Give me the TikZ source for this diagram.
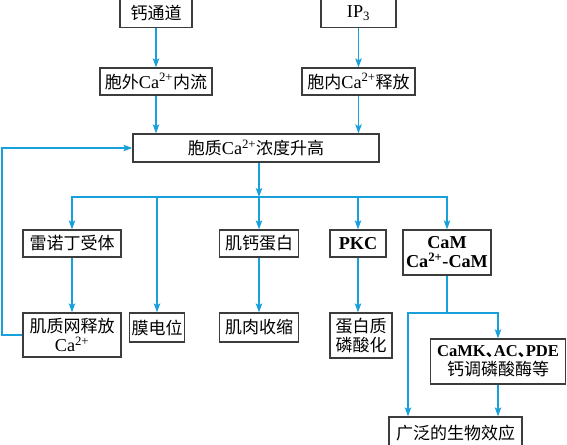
\documentclass[tikz,border=0pt]{standalone}
\usepackage{fontspec}
\setmainfont[Scale=1.07]{Liberation Serif}
\newfontfamily\cjk{Noto Sans CJK SC}
\usetikzlibrary{arrows.meta}
\definecolor{flowblue}{RGB}{24,160,218}
\definecolor{boxgray}{RGB}{60,60,60}
\newcommand{\caion}{Ca\textsuperscript{2+}}
\newcommand{\dun}{\makebox[8pt][l]{\cjk 、}}

\begin{document}
\begin{tikzpicture}[x=1pt,y=-1pt]
\tikzset{box/.style={draw=boxgray,line width=1.3pt,inner sep=0pt,align=center,font=\fontsize{17}{19}\selectfont},
flow/.style={draw=flowblue,line width=1.2pt},
flowarr/.style={flow,-{Stealth[length=9pt,width=6.5pt,inset=2pt]}}}
\clip (0,0) rectangle (567,444);

\node[box,minimum width=72pt,minimum height=29pt] (ca) at (156,13) {\cjk 钙通道};
\node[box,minimum width=75pt,minimum height=29pt] (ip3) at (358.5,13) {IP\textsubscript{3}};
\node[box,minimum width=112pt,minimum height=27pt] (out) at (156,81.5) {{\cjk 胞外}\caion{\cjk 内流}};
\node[box,minimum width=113pt,minimum height=27pt] (in) at (358.5,81.5) {{\cjk 胞内}\caion{\cjk 释放}};
\node[box,minimum width=246pt,minimum height=28pt] (mid) at (256,148) {{\cjk 胞质}\caion{\cjk 浓度升高}};

\node[box,minimum width=98pt,minimum height=27pt] (ryr) at (72,243.5) {\cjk 雷诺丁受体};
\node[box,minimum width=79pt,minimum height=27pt] (trop) at (259,243.5) {\cjk 肌钙蛋白};
\node[box,minimum width=56pt,minimum height=27pt] (pkc) at (358,243.5) {\textbf{PKC}};
\node[box,minimum width=88pt,minimum height=45pt] (cam) at (447,252.5) {\textbf{CaM}\\\textbf{\caion-CaM}};

\node[box,minimum width=98pt,minimum height=44pt] (sr) at (72,335) {\cjk 肌质网释放\\\caion};
\node[box,minimum width=55pt,minimum height=29pt] (mem) at (157,327.5) {\cjk 膜电位};
\node[box,minimum width=79pt,minimum height=29pt] (mus) at (259,327.5) {\cjk 肌肉收缩};
\node[box,minimum width=62pt,minimum height=45pt] (phos) at (361,335.5) {\cjk 蛋白质\\\cjk 磷酸化};
\node[box,minimum width=135pt,minimum height=45pt] (camk) at (498,361.5) {{\fontsize{15.5}{19}\selectfont\textbf{CaMK\dun AC\dun PDE}}\\\cjk 钙调磷酸酶等};
\node[box,minimum width=133pt,minimum height=32pt] (eff) at (455.5,433) {\cjk 广泛的生物效应};

\coordinate (hub) at (259,197);
\coordinate (split) at (447,313);
\coordinate (splitl) at (408,313);
\coordinate (back) at (2,148);

% upper part
\draw[flowarr] (ca) -- (out);
\draw[flowarr] (ip3) -- (in);
\draw[flowarr] (out.south) -- (out.south |- mid.north);
\draw[flowarr] (in.south) -- (in.south |- mid.north);
\draw[flowarr] (mid.south -| hub) -- (hub);

% branches
\draw[flowarr] (hub) -| (ryr.north);
\draw[flowarr] (hub) -| (cam.north);
\draw[flowarr] (hub) -- (trop.north);
\draw[flowarr] (hub -| mem.north) -- (mem.north);
\draw[flowarr] (hub -| pkc.north) -- (pkc.north);
\draw[flowarr] (ryr) -- (sr);
\draw[flowarr] (trop) -- (mus);
\draw[flowarr] (pkc.south) -- (pkc.south |- phos.north);
\draw[flowarr] (sr.west) -- (sr.west -| back) |- (mid.west);

% CaM
\draw[flow] (cam.south) -- (split);
\draw[flowarr] (split) -| (eff.north -| splitl);
\draw[flowarr] (split) -| (camk.north);
\draw[flowarr] (camk.south) -- (camk.south |- eff.north);
\end{tikzpicture}
\end{document}
